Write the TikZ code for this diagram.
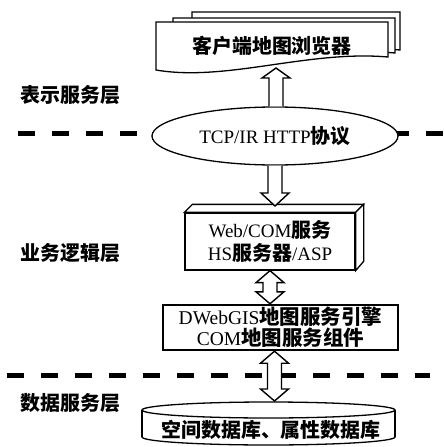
\documentclass[tikz,border=0pt]{standalone}
\usepackage{fontspec}
\setmainfont{Liberation Serif}
\newfontfamily\cjk{Noto Sans CJK SC}[Scale=1.05]
\usetikzlibrary{calc,shapes.geometric}
\tikzset{
  boxline/.style={draw, line width=1.3pt, fill=white},
  blk/.style={draw, line width=1.4pt, fill=white, line join=miter},
  sep/.style={line width=5pt, dash pattern=on 17pt off 17pt},
  lab/.style={font=\cjk\bfseries\fontsize{19}{22}\selectfont, anchor=west, inner sep=0pt},
  txt/.style={font=\fontsize{19}{23}\selectfont, align=center, inner sep=0pt},
}
\newcommand\cb[1]{{\cjk\bfseries #1}}
\newcommand\docpath[4]{\draw[boxline] (#1,#2) -- (#3,#2) -- (#3,#4-13) .. controls (#3-80,#4-20) and (#1+70,#4+12) .. (#1,#4) -- cycle;}
\newcommand\uparr[2]{\draw[blk] let \p1=(#1),\p2=(#2) in (\x2-7pt,\y1) -- (\x2-7pt,\y2-10pt) -- (\x2-14pt,\y2-10pt) -- (\x2,\y2) -- (\x2+14pt,\y2-10pt) -- (\x2+7pt,\y2-10pt) -- (\x2+7pt,\y1);}
\newcommand\downarr[2]{\draw[blk] let \p1=(#1),\p2=(#2) in (\x2-7pt,\y1) -- (\x2-7pt,\y2+13pt) -- (\x2-14pt,\y2+13pt) -- (\x2,\y2) -- (\x2+14pt,\y2+13pt) -- (\x2+7pt,\y2+13pt) -- (\x2+7pt,\y1);}
\newcommand\dblarr[2]{\draw[blk] let \p1=(#1),\p2=(#2) in (\x1,\y1) -- (\x1+14pt,\y1-12pt) -- (\x1+7pt,\y1-12pt) -- (\x1+7pt,\y2+12pt) -- (\x1+14pt,\y2+12pt) -- (\x1,\y2) -- (\x1-14pt,\y2+12pt) -- (\x1-7pt,\y2+12pt) -- (\x1-7pt,\y1-12pt) -- (\x1-14pt,\y1-12pt) -- cycle;}
\begin{document}
\begin{tikzpicture}[x=1pt,y=-1pt]
\useasboundingbox[fill=white] (0,0) rectangle (444,447);

% layer separators
\draw[sep] (18,133) -- (444,133);
\draw[sep] (7,375) -- (430,375);

% layer labels
\node[lab] (l1) at (20,95) {表示服务层};
\node[lab] (l2) at (20,253) {业务逻辑层};
\node[lab] (l3) at (20,403) {数据服务层};

% browser (stacked documents)
\docpath{192}{12}{400}{63}
\docpath{173}{18}{395}{66}
\docpath{156}{22}{388}{70}
\node[txt] (browser) at (272,46) {\cb{客户端地图浏览器}};
\coordinate (bt) at (276,68);

% protocol ellipse
\node[ellipse, draw, fill=white, line width=1.3pt, minimum width=246pt, minimum height=58pt, inner sep=0pt, font=\fontsize{19}{23}\selectfont] (proto) at (275,136) {TCP/IR HTTP\cb{协议}};

% web box (3D)
\node[draw, fill=white, line width=1.3pt, minimum width=170pt, minimum height=57pt, inner sep=0pt, align=center, font=\fontsize{19}{23}\selectfont] (web) at (270,241.5) {Web/COM\cb{服务}\\HS\cb{服务器}/ASP};
\draw[boxline] (web.north west) -- ++(8,-8) -- ($(web.north east)+(8,-8)$) -- (web.north east) -- cycle;
\draw[boxline] (web.north east) -- ++(8,-8) -- ++(0,57) -- (web.south east) -- cycle;
\coordinate (wt) at (275,206);

% GIS engine box
\node[draw, fill=white, line width=2.4pt, minimum width=235pt, minimum height=45pt, inner sep=0pt, align=center, font=\fontsize{19.5}{19}\selectfont] (gis) at (280.5,327.5) {DWebGIS\cb{地图服务引擎}\\COM\cb{地图服务组件}};

% database cylinder
\draw[boxline] (268.5,437) ellipse [x radius=126.5, y radius=8];
\fill[white] (142,410) rectangle (395,437);
\draw[line width=1.3pt] (142,410) -- (142,437) (395,410) -- (395,437);
\draw[boxline] (268.5,410) ellipse [x radius=126.5, y radius=8];
\node[txt] (db) at (271,430) {\cb{空间数据库、属性数据库}};
\coordinate (dbt) at (274,401);

% connectors
\uparr{proto.north}{bt}
\downarr{proto.south}{wt}
\dblarr{web.south}{gis.north}
\dblarr{$(gis.south)+(-6,0)$}{dbt}
\end{tikzpicture}
\end{document}
